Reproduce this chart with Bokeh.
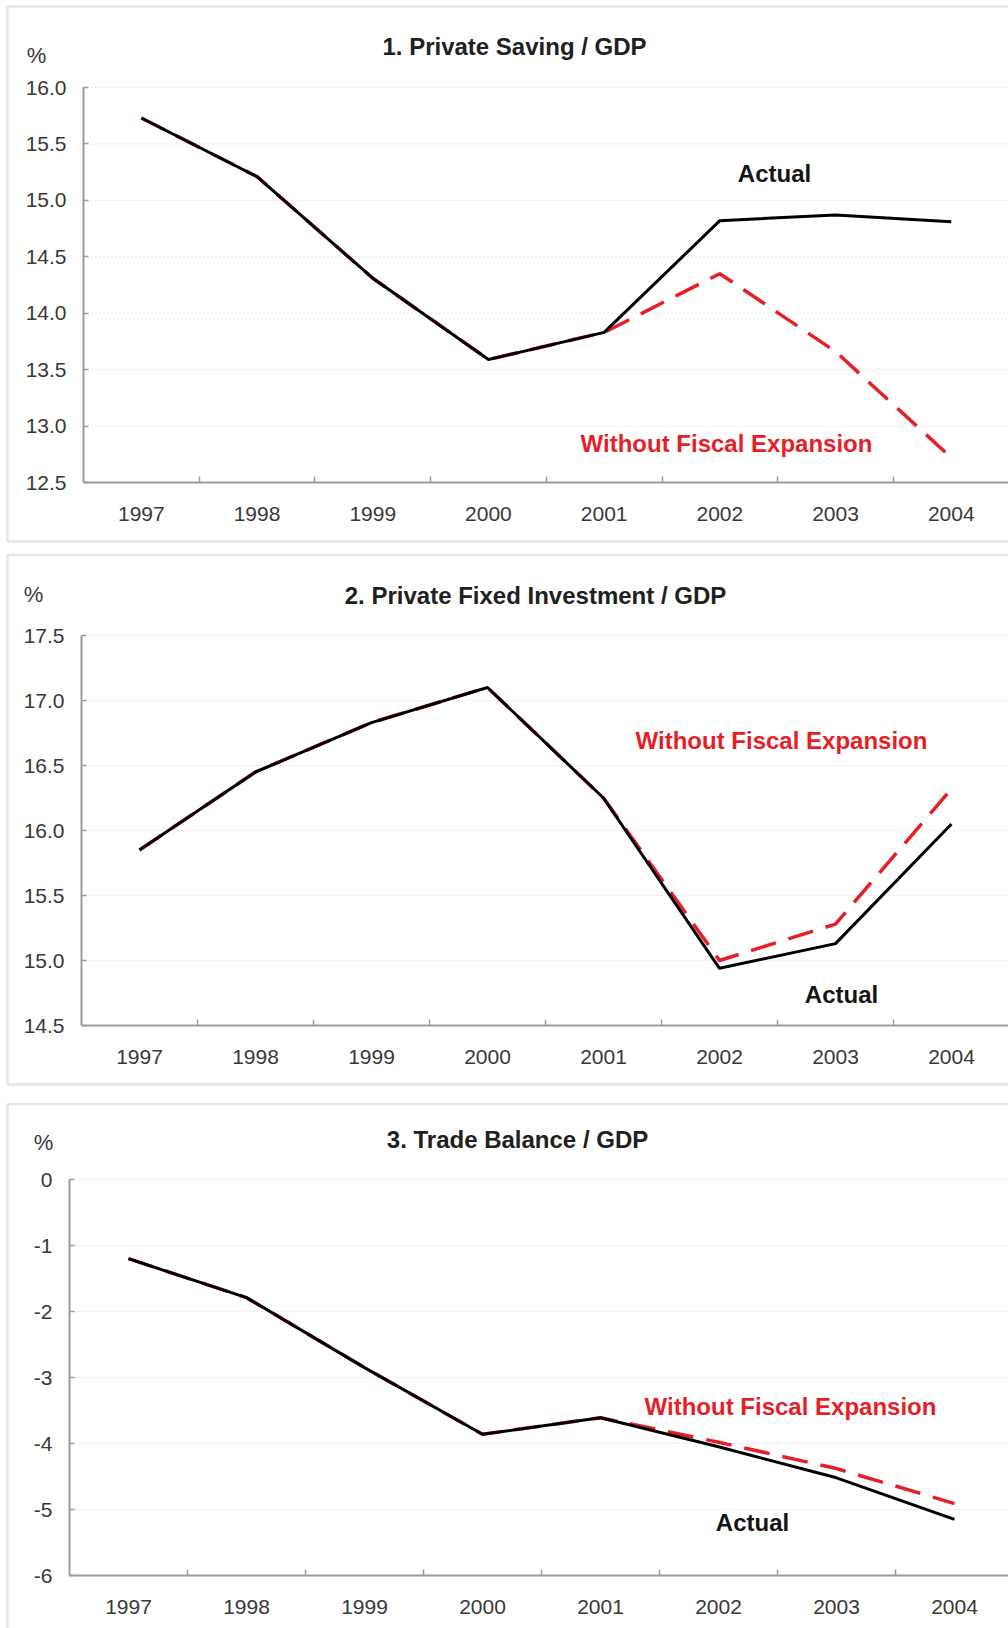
from bokeh.plotting import figure
from bokeh.models import Range1d, FixedTicker, Label, BoxAnnotation, PrintfTickFormatter
from bokeh.layouts import column
from bokeh.embed import file_html
from bokeh.resources import INLINE

# ---------------- data ----------------
years = [1997, 1998, 1999, 2000, 2001, 2002, 2003, 2004]
year_labels = ["1997", "1998", "1999", "2000", "2001", "2002", "2003", "2004"]

saving_actual = [15.73, 15.21, 14.31, 13.59, 13.83, 14.82, 14.87, 14.81]
saving_without = [15.73, 15.21, 14.31, 13.59, 13.83, 14.35, 13.66, 12.72]

invest_actual = [15.85, 16.45, 16.83, 17.10, 16.25, 14.94, 15.13, 16.05]
invest_without = [15.85, 16.45, 16.83, 17.10, 16.25, 15.00, 15.28, 16.32]

trade_actual = [-1.20, -1.79, -2.85, -3.86, -3.61, -4.05, -4.52, -5.15]
trade_without = [-1.20, -1.79, -2.85, -3.86, -3.61, -3.98, -4.38, -4.91]

titles = ["1. Private Saving / GDP",
          "2. Private Fixed Investment / GDP",
          "3. Trade Balance / GDP"]
ticks_saving = [12.5, 13.0, 13.5, 14.0, 14.5, 15.0, 15.5, 16.0]
ticks_invest = [14.5, 15.0, 15.5, 16.0, 16.5, 17.0, 17.5]
ticks_trade = [-6, -5, -4, -3, -2, -1, 0]
label_actual = "Actual"
label_without = "Without Fiscal Expansion"

FONT = "Liberation Sans"
RED = "#e61e28"
AXIS = "#9c9c9c"
TXT = "#383838"
W = 1008


def panel(actual, without, yticks, fmt, title, height,
          x0_px, xppu, ytop_px, yppu,
          title_px, pct_px, act_px, wo_px, box_px):
    # pixel geometry -> data ranges (frame covers the whole canvas)
    x_start = years[0] - 0.5 - x0_px / xppu
    x_end = x_start + W / xppu
    y_top = yticks[-1] + ytop_px / yppu
    y_bot = y_top - height / yppu

    def dx(px):
        return x_start + px / xppu

    def dy(py):
        return y_top - py / yppu

    p = figure(width=W, height=height, output_backend="svg",
               toolbar_location=None,
               x_range=Range1d(x_start, x_end), y_range=Range1d(y_bot, y_top),
               min_border=0)
    p.min_border_left = p.min_border_right = 0
    p.min_border_top = p.min_border_bottom = 0
    p.outline_line_color = None
    p.background_fill_color = "white"
    p.border_fill_color = "white"
    p.xgrid.visible = False
    p.ygrid.visible = False

    x_lo, x_hi = years[0] - 0.5, years[-1] + 0.5
    minor = [y + 0.5 for y in years[:-1]]
    xa = p.xaxis[0]
    xa.fixed_location = yticks[0]
    xa.bounds = (x_lo, x_hi)
    xa.ticker = FixedTicker(ticks=years, minor_ticks=minor)
    xa.major_label_overrides = {y: l for y, l in zip(years, year_labels)}
    xa.major_tick_line_color = None
    xa.minor_tick_line_color = AXIS
    xa.minor_tick_line_width = 1.5
    xa.minor_tick_in = 6
    xa.minor_tick_out = 0
    xa.axis_line_color = AXIS
    xa.axis_line_width = 2
    xa.major_label_standoff = 18
    xa.major_label_text_font = FONT
    xa.major_label_text_font_size = "21px"
    xa.major_label_text_color = TXT

    ya = p.yaxis[0]
    ya.fixed_location = x_lo
    ya.bounds = (yticks[0], yticks[-1])
    ya.ticker = FixedTicker(ticks=yticks)
    ya.formatter = PrintfTickFormatter(format=fmt)
    ya.major_tick_line_color = AXIS
    ya.major_tick_line_width = 1.5
    ya.major_tick_in = 5
    ya.major_tick_out = 0
    ya.minor_tick_line_color = None
    ya.axis_line_color = AXIS
    ya.axis_line_width = 2
    ya.major_label_standoff = 17
    ya.major_label_text_font = FONT
    ya.major_label_text_font_size = "21px"
    ya.major_label_text_color = TXT

    # dotted horizontal gridlines from the y axis to the right
    gl = yticks[1:]
    p.segment(x0=[x_lo] * len(gl), y0=gl, x1=[x_end] * len(gl), y1=gl,
              line_color="#d0d0d0", line_width=1, line_dash="1 3")

    p.line(years, without, line_color=RED, line_width=3.5, line_dash="26 13")
    p.line(years, actual, line_color="black", line_width=3)

    p.add_layout(Label(x=dx(title_px[0]), y=dy(title_px[1]), text=title,
                       text_font=FONT, text_font_size="24px",
                       text_font_style="bold", text_color="#202020",
                       text_align="center", text_baseline="middle"))
    p.add_layout(Label(x=dx(pct_px[0]), y=dy(pct_px[1]), text="%",
                       text_font=FONT, text_font_size="22px",
                       text_color=TXT, text_align="center",
                       text_baseline="middle"))
    p.add_layout(Label(x=dx(act_px[0]), y=dy(act_px[1]), text=label_actual,
                       text_font=FONT, text_font_size="24px",
                       text_font_style="bold", text_color="#151515",
                       text_align="center", text_baseline="middle"))
    p.add_layout(Label(x=dx(wo_px[0]), y=dy(wo_px[1]), text=label_without,
                       text_font=FONT, text_font_size="24px",
                       text_font_style="bold", text_color=RED,
                       text_align="center", text_baseline="middle"))

    p.add_layout(BoxAnnotation(left=dx(box_px[0]), right=dx(W + 40),
                               top=dy(box_px[1]), bottom=dy(box_px[2]),
                               fill_alpha=0, fill_color=None,
                               line_color="#ababab", line_width=2.5))
    return p


p1 = panel(saving_actual, saving_without, ticks_saving, "%.1f", titles[0], 553,
           83, 115.7, 87, 112.86,
           (514, 46), (36, 55), (774, 173), (726, 443), (7, 6, 541))
p2 = panel(invest_actual, invest_without, ticks_invest, "%.1f", titles[1], 549,
           81, 116.0, 82, 130.0,
           (535, 42), (33, 41), (841, 441), (781, 187), (7, 1.5, 531))
p3 = panel(trade_actual, trade_without, ticks_trade, "%d", titles[2], 526,
           69, 118.0, 77, 66.0,
           (517, 37), (43, 40), (752, 420), (790, 304), (7, 1.5, 620))

layout = column(p1, p2, p3, spacing=0)
open("out.html", "w").write(file_html(layout, INLINE))
